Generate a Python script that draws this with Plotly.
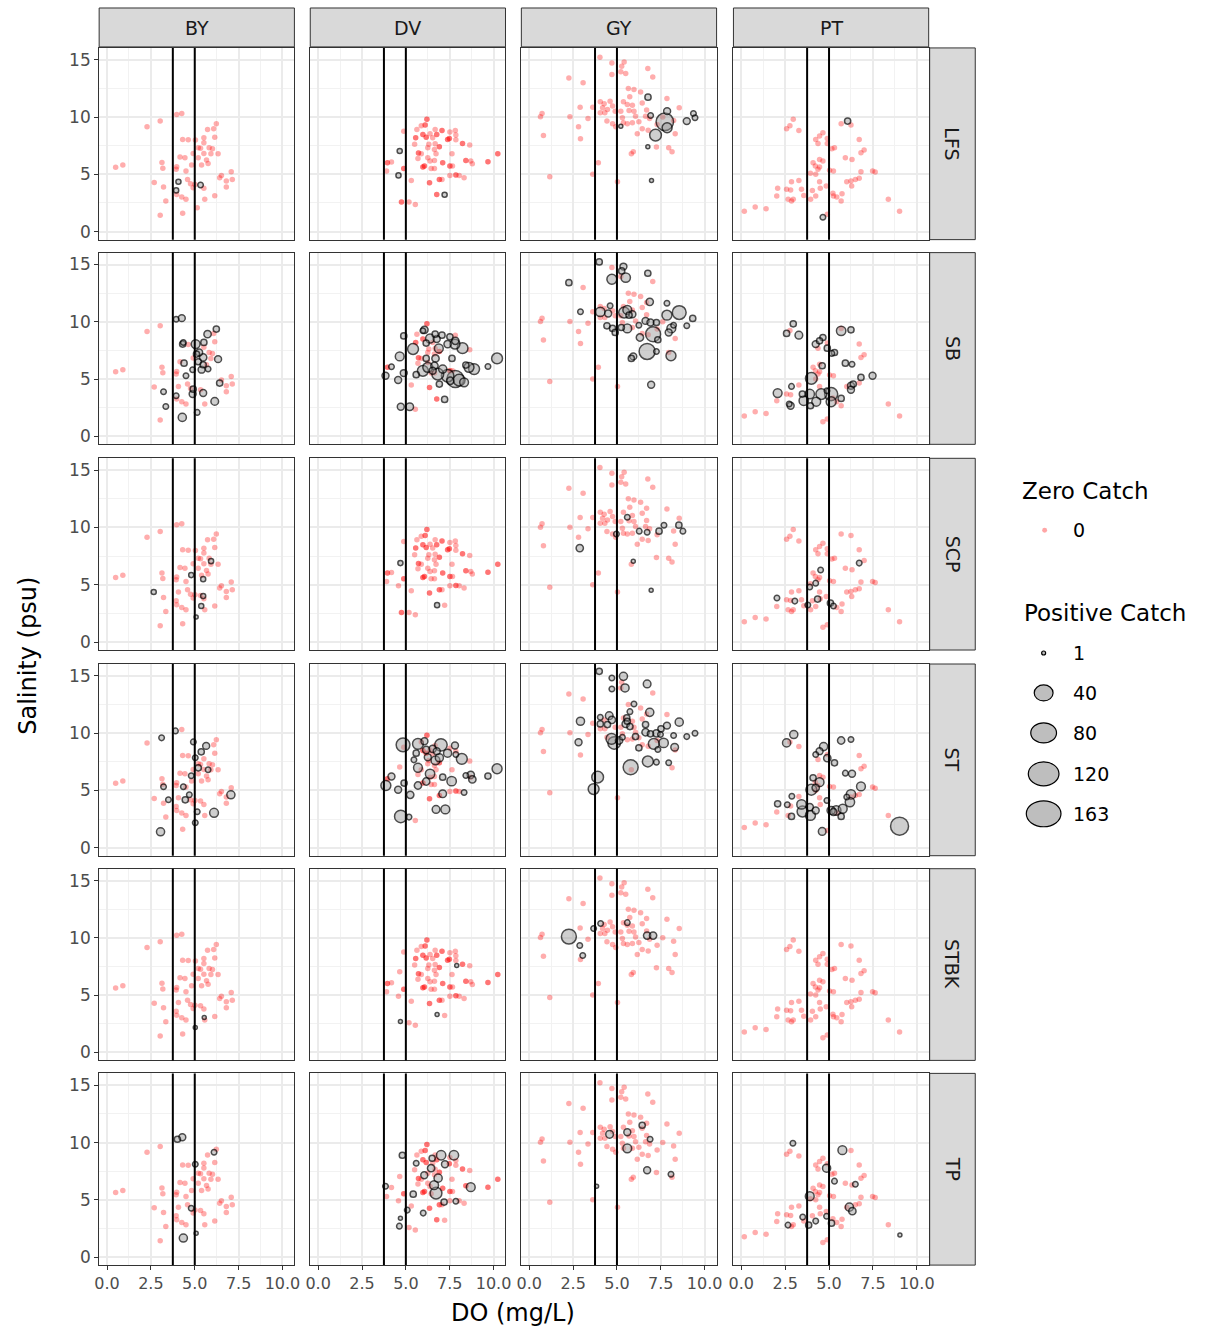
import math
import plotly.graph_objects as go

# ---------------- categories / ticks ----------------
STATIONS = ["BY", "DV", "GY", "PT"]
SPECIES = ["LFS", "SB", "SCP", "ST", "STBK", "TP"]
DO_THRESHOLDS = [3.75, 5.0]
X_TICKS = [0, 2.5, 5, 7.5, 10]
X_TICK_TEXT = ["0.0", "2.5", "5.0", "7.5", "10.0"]
X_MINOR = [1.25, 3.75, 6.25, 8.75]
Y_TICKS = [0, 5, 10, 15]
Y_TICK_TEXT = ["0", "5", "10", "15"]
Y_MINOR = [2.5, 7.5, 12.5]
LEGEND_SIZES = [1, 40, 80, 120, 163]

# ---------------- sampling events (DO mg/L, salinity psu) per station ----------------
events_BY = [(3.97,10.23),(4.26,10.32),(3.03,9.65),(2.28,9.15),(6.23,9.42),(5.73,8.92),(6.08,8.98),
             (4.31,8.05),(4.63,8.02),(5.04,7.99),(5.52,8.19),(6.14,8.25),(5.52,7.77),(5.2,7.32),(5.33,7.27),
             (5.82,7.32),(6.01,7.24),(4.91,6.83),(5.52,6.83),(5.92,6.8),(6.33,6.8),(4.16,6.51),(4.44,6.45),
             (5.2,6.45),(5.67,6.25),(5.76,5.94),(5.39,5.82),(4.82,5.82),(3.97,5.67),(3.94,5.44),(3.13,6.03),
             (3.18,5.54),(0.49,5.63),(0.9,5.82),(4.5,5.29),(6.52,4.91),(6.42,4.71),(7.08,5.23),(7.14,4.56),
             (6.8,4.42),(6.8,3.89),(2.69,4.3),(3.22,3.89),(4.59,4.56),(4.76,4.18),(4.91,3.84),(5.52,3.78),
             (5.01,4.12),(4.26,3.02),(4.5,2.82),(3.97,3.25),(5.57,2.82),(6.14,3.14),(3.35,2.67),(5.14,2.09),
             (4.31,1.6),(3.03,1.42),(4.07,4.36),(3.94,3.6),(5.33,4.07)]

events_DV = [(6.2,9.82),(6.1,9.3),(5.88,9.24),(5.63,8.92),(4.88,8.77),(5.97,8.49),(6.38,8.54),(6.67,8.92),
             (6.76,8.49),(7.06,8.83),(7.51,8.69),(7.82,8.83),(7.85,8.43),(5.56,8.2),(6.16,8.25),(6.53,8.2),
             (7.38,8.05),(7.48,8.14),(7.85,8.02),(8.23,7.7),(8.64,7.56),(5.5,7.62),(6.31,7.62),(6.67,7.67),
             (6.91,7.41),(6.25,7.32),(6.63,7.18),(5.72,6.86),(5.88,6.8),(6.72,6.8),(7.63,6.8),(10.24,6.8),
             (8.42,6.22),(8.7,6.16),(8.79,5.93),(9.68,6.1),(3.95,6.02),(4.18,6.07),(4.88,5.52),(3.9,5.29),
             (5.69,6.39),(6.25,6.45),(6.38,6.16),(6.63,6.22),(6.06,5.72),(5.97,5.64),(6.44,5.52),(7.1,6.02),
             (7.51,5.72),(7.66,5.72),(7.85,4.94),(8.04,4.91),(7.51,4.91),(8.32,4.71),(6.63,5.52),(5.31,4.47),
             (6.35,4.27),(6.91,4.56),(7.06,4.56),(6.76,3.25),(4.75,2.58),(5.18,2.58),(5.54,2.37),
             (4.65,7.04),(4.58,4.91),(7.21,3.22)]
# repeated samples at the same DO/salinity (appear as deeper red)
repeats_DV = [(6.2,9.82),(6.1,9.3),(5.97,8.49),(6.76,8.49),(7.06,8.83),(5.56,8.2),(6.16,8.25),(7.38,8.05),
              (7.48,8.14),(8.23,7.7),(6.91,7.41),(5.72,6.86),(10.24,6.8),(8.42,6.22),(9.68,6.1),(3.95,6.02),
              (4.88,5.52),(6.06,5.72),(5.97,5.64),(7.1,6.02),(7.51,5.72),(7.85,4.94),(6.35,4.27),(6.91,4.56),
              (6.76,3.25),(4.75,2.58)]

events_GY = [(4.03,15.23),(4.71,14.73),(5.41,14.82),(5.27,14.44),(5.22,13.95),(5.5,13.8),(4.71,13.71),
             (6.76,14.24),(7.04,13.51),(2.26,13.42),(3.07,12.99),(5.65,12.5),(5.97,12.41),(6.35,12.2),
             (6.69,11.68),(5.73,11.77),(7.85,11.62),(4.05,11.33),(4.61,11.39),(4.27,11.16),(5.37,11.33),
             (5.59,11.1),(5.88,11.04),(6.44,11.24),(2.9,10.87),(3.62,10.87),(4.18,10.81),(4.46,10.66),
             (4.75,10.96),(5.22,10.52),(5.69,10.58),(5.97,10.52),(6.69,10.61),(8.55,10.81),(4.05,10.38),
             (4.31,10.38),(4.9,10.52),(0.73,10.32),(0.64,10.03),(2.32,10.03),(3.35,9.88),(4.43,9.65),
             (4.75,9.42),(4.93,9.15),(5.37,9.5),(5.59,9.42),(5.88,9.5),(6.25,9.59),(6.63,10.08),(6.86,9.88),
             (7.61,10.0),(8.23,9.7),(8.32,8.54),(2.81,9.15),(6.44,8.98),(6.78,8.86),(6.16,8.54),(0.81,8.4),
             (2.92,8.1),(7.25,7.38),(7.95,7.32),(8.14,6.98),(5.93,6.98),(5.82,6.8),(3.94,6.02),(3.62,5.0),
             (1.17,4.79),(5.03,4.36),(6.06,10.08),(5.31,9.94),(7.29,9.36)]

events_PT = [(2.96,9.82),(2.77,9.24),(2.58,8.98),(3.28,8.83),(5.69,9.42),(6.25,9.3),(4.65,8.63),(4.46,8.34),
             (4.24,8.05),(4.37,7.7),(4.9,8.14),(4.9,7.7),(6.72,8.05),(5.31,7.32),(5.16,7.24),(7.0,7.12),
             (6.82,6.89),(4.46,6.3),(4.65,6.16),(4.09,6.02),(4.22,5.72),(4.46,5.64),(4.37,5.44),(5.93,6.45),
             (6.31,6.3),(5.03,5.35),(5.25,5.29),(3.94,5.09),(4.24,5.0),(6.82,5.23),(7.48,5.29),(7.63,5.2),
             (6.5,4.56),(6.25,4.42),(6.01,4.36),(6.72,4.65),(6.29,3.98),(2.86,4.36),(3.28,4.47),(2.07,3.78),
             (2.58,3.69),(2.81,3.63),(3.43,3.69),(4.05,3.6),(3.95,2.82),(3.56,3.16),(4.24,3.11),(4.46,4.36),
             (4.5,3.78),(4.84,3.98),(5.22,3.34),(5.44,3.02),(5.25,3.11),(5.74,3.31),(5.69,2.67),(2.02,3.11),
             (2.67,2.82),(2.86,2.67),(2.96,2.82),(0.17,1.77),(0.79,2.15),(1.41,2.0),(8.38,2.82),(9.02,1.77),
             (4.65,1.28),(4.9,1.51)]

# ---------------- positive catches (DO, salinity, catch) per species x station ----------------
LFS_BY = [(4.07,4.36,2),(3.94,3.6,2),(5.33,4.07,3)]
LFS_DV = [(4.65,7.04,2),(4.58,4.91,2),(7.21,3.22,2)]
LFS_GY = [(6.77,11.74,5),(6.92,10.14,3),(7.86,10.52,8),(7.73,9.59,150),(7.86,9.07,30),(7.2,8.43,50),
          (9.36,10.32,3),(9.45,9.94,3),(8.98,9.65,8),(5.22,9.21,1),(6.76,7.41,1),(6.97,4.47,1)]
LFS_PT = [(6.06,9.65,5),(4.65,1.25,3)]

SB_BY = [(3.94,10.23,3),(4.26,10.32,8),(6.23,9.36,5),(5.73,8.92,10),(4.31,8.05,5),(4.35,8.2,3),(5.05,8.05,20),
         (5.52,8.2,5),(5.25,7.32,8),(5.1,7.18,5),(5.48,6.89,10),(6.33,6.74,8),(4.39,6.39,5),(5.2,6.51,5),
         (5.48,6.25,5),(5.76,5.87,3),(5.39,5.82,8),(4.88,5.82,3),(4.5,5.29,3),(6.42,4.65,5),(3.22,3.89,3),
         (3.94,3.54,3),(4.91,4.12,5),(4.88,3.69,8),(5.48,3.78,8),(6.14,3.05,12),(3.35,2.61,3),(5.14,2.09,3),
         (4.29,1.65,15)]
SB_DV = [(6.06,9.3,10),(4.88,8.77,5),(5.97,9.21,3),(6.67,8.92,5),(7.06,8.83,5),(7.51,8.69,5),(6.38,8.54,20),
         (6.76,8.49,8),(5.41,7.62,40),(6.16,8.14,5),(6.88,7.67,20),(7.38,8.05,10),(7.8,8.05,30),(8.23,7.7,40),
         (6.16,6.8,5),(6.69,6.8,10),(7.63,6.8,5),(4.65,6.98,20),(10.2,6.8,40),(6.63,6.16,10),(6.25,6.02,30),
         (5.97,5.72,40),(7.1,5.87,15),(6.53,5.72,8),(8.6,6.02,30),(8.89,5.87,40),(8.42,6.22,5),(9.68,6.1,3),
         (6.82,5.43,50),(7.38,5.29,60),(7.82,5.0,140),(8.04,4.91,50),(8.32,4.71,20),(6.91,4.56,5),(7.53,4.85,10),
         (4.18,6.07,3),(4.88,5.52,8),(3.84,5.29,8),(4.56,4.91,8),(5.59,5.38,5),(7.21,3.22,5),(4.71,2.58,8),
         (5.22,2.58,12),(7.82,8.34,10)]
SB_GY = [(3.99,15.23,5),(5.37,14.82,8),(5.27,14.44,5),(4.71,13.71,30),(5.5,13.86,25),(6.76,14.24,5),
         (2.26,13.42,5),(6.87,11.74,10),(7.85,11.62,3),(4.05,10.87,25),(4.61,11.39,3),(4.5,10.72,8),
         (5.59,11.04,20),(5.41,10.81,40),(5.88,10.66,8),(5.69,10.58,5),(2.92,10.87,3),(7.85,10.58,30),
         (8.55,10.81,80),(9.32,10.29,5),(8.98,9.65,3),(6.63,10.08,8),(6.91,9.94,8),(7.25,9.94,5),(8.23,9.7,3),
         (4.43,9.65,5),(4.75,9.42,5),(4.9,9.07,5),(5.25,9.5,5),(5.59,9.42,20),(6.25,9.7,3),(7.06,8.92,100),
         (7.33,8.43,5),(7.95,9.07,8),(8.1,9.42,20),(6.31,8.63,10),(6.72,7.41,120),(7.25,7.41,3),(8.08,7.03,30),
         (5.93,6.98,8),(5.82,6.8,5),(6.95,4.5,8)]
SB_PT = [(2.96,9.82,5),(2.58,8.98,5),(3.28,8.83,12),(5.69,9.21,25),(6.25,9.3,5),(4.65,8.63,5),(4.46,8.34,5),
         (4.24,8.05,8),(4.9,7.7,5),(5.31,7.32,5),(5.16,7.24,3),(5.93,6.39,5),(6.31,6.3,3),(4.61,6.16,5),
         (3.99,5.06,50),(6.82,5.14,5),(7.48,5.29,8),(6.25,4.42,8),(6.38,4.56,5),(6.25,4.07,8),(2.86,4.36,3),
         (2.07,3.78,20),(3.48,3.69,5),(3.9,3.69,25),(3.56,3.11,25),(4.27,3.02,20),(4.56,3.69,40),(4.88,3.98,3),
         (5.12,3.69,70),(5.12,3.02,30),(5.69,3.31,5),(2.81,2.67,8),(3.94,2.67,5),(2.73,2.82,3)]

SCP_BY = [(2.66,4.36,2),(4.8,5.84,2),(5.93,7.06,2),(5.48,5.49,2),(5.37,3.14,2),(5.08,2.18,1),(5.48,4.01,2)]
SCP_DV = [(4.69,6.89,2),(6.78,3.22,2)]
SCP_GY = [(2.88,8.2,10),(5.59,10.9,3),(6.72,9.59,3),(7.4,9.68,5),(7.68,10.2,3),(8.53,10.2,5),(8.76,9.68,3),
          (5.93,7.06,1),(6.95,4.53,1),(4.97,9.42,3),(6.27,9.68,3)]
SCP_PT = [(2.03,3.84,3),(3.05,3.57,3),(3.9,4.8,3),(4.24,5.14,3),(4.35,3.75,5),(4.52,6.28,3),(5.08,3.4,5),
          (5.25,3.14,3),(6.72,6.89,3),(3.79,3.23,3)]

ST_BY = [(3.9,10.2,3),(3.11,9.59,3),(4.92,9.24,3),(5.37,8.37,5),(5.03,7.85,3),(5.65,8.89,8),(5.2,6.97,5),
         (4.8,6.28,3),(4.35,5.32,3),(3.22,5.32,3),(3.5,4.18,3),(4.46,4.18,5),(5.14,3.14,3),(6.1,3.05,20),
         (3.05,1.39,15),(7.06,4.62,15),(5.03,2.18,3),(5.76,6.8,3),(4.69,4.62,3)]
ST_DV = [(4.84,8.98,80),(5.69,9.07,40),(7.0,8.98,60),(6.06,9.3,8),(6.16,8.54,10),(6.53,8.63,10),(6.76,8.43,8),
         (7.38,8.25,15),(7.8,8.92,8),(5.59,8.25,5),(6.25,7.9,8),(6.69,7.62,20),(6.91,7.85,15),(8.19,7.76,40),
         (7.85,8.14,3),(5.46,7.67,3),(5.69,6.98,20),(10.2,6.89,30),(6.38,6.45,25),(7.1,6.16,5),(7.61,5.81,25),
         (6.16,5.78,10),(5.69,5.43,10),(8.7,6.36,10),(8.79,5.96,10),(8.42,6.3,3),(9.68,6.25,5),(4.18,6.22,8),
         (3.86,5.43,30),(4.9,5.64,5),(4.56,5.06,8),(5.25,4.62,10),(7.1,4.71,12),(8.32,4.82,3),(6.72,3.34,12),
         (7.25,3.34,20),(4.71,2.73,60),(5.18,2.67,3)]
ST_GY = [(3.99,15.4,5),(4.71,14.82,3),(5.37,14.96,15),(4.71,13.86,3),(5.46,13.95,15),(6.72,14.3,12),
         (5.97,12.55,3),(5.74,11.88,3),(6.87,11.82,15),(4.05,11.39,3),(4.56,11.53,12),(4.71,11.16,10),
         (5.56,11.33,5),(5.59,11.04,5),(2.92,11.04,15),(4.05,10.81,5),(4.46,10.75,5),(5.5,10.81,10),
         (5.74,10.58,5),(6.63,10.75,5),(7.85,10.66,8),(8.55,10.96,15),(7.51,10.38,5),(8.23,9.79,3),
         (8.98,9.7,3),(9.45,10.0,3),(6.63,10.08,10),(6.91,9.94,5),(7.25,9.99,10),(7.48,9.88,3),(6.06,9.7,5),
         (5.31,9.65,3),(4.69,9.5,40),(4.84,9.15,60),(5.12,9.36,10),(2.81,9.21,8),(7.1,9.07,40),(7.66,9.15,25),
         (8.29,8.77,12),(6.25,8.72,5),(7.33,8.57,3),(6.76,7.53,40),(7.25,7.47,3),(5.78,7.03,100),(7.95,7.41,3),
         (3.9,6.16,50),(3.67,5.12,40)]
ST_PT = [(2.99,9.88,15),(2.58,9.15,15),(5.69,9.36,10),(6.25,9.44,3),(4.69,8.83,15),(4.46,8.43,8),(4.24,8.14,3),
         (4.9,7.82,10),(5.31,7.41,5),(5.93,6.51,3),(6.31,6.45,8),(4.09,6.1,5),(4.46,5.72,20),(4.24,5.23,10),
         (3.99,5.06,40),(6.82,5.35,20),(6.25,4.65,25),(6.19,3.98,25),(6.01,4.42,3),(2.88,4.5,3),(2.07,3.83,5),
         (2.62,3.75,3),(3.43,3.78,25),(3.9,3.54,10),(3.49,3.16,40),(3.94,2.82,30),(4.24,3.25,8),(4.88,4.12,3),
         (5.12,3.25,15),(5.41,3.25,25),(5.78,3.4,20),(5.69,2.73,5),(5.25,3.11,8),(2.86,2.73,5),(4.61,1.42,12),
         (9.02,1.88,163)]

STBK_BY = [(5.54,3.05,1),(5.03,2.18,1)]
STBK_DV = [(4.69,2.7,1),(6.78,3.31,1),(7.9,7.58,1)]
STBK_GY = [(2.26,10.11,100),(3.67,10.81,3),(4.07,11.25,3),(2.88,9.33,3),(3.05,8.46,3),(5.59,11.33,3),
           (6.72,10.2,10),(7.06,10.2,10)]
STBK_PT = []

TP_BY = [(4.01,10.29,5),(4.29,10.46,8),(5.03,8.11,3),(6.1,9.15,3),(4.8,4.27,3),(4.35,1.66,15),(5.08,2.09,1)]
TP_DV = [(4.8,8.89,5),(5.59,8.2,3),(6.5,8.63,5),(7.01,8.89,25),(7.74,8.89,25),(6.44,7.76,10),(7.23,8.11,8),
         (6.05,7.15,8),(6.84,6.89,15),(6.61,6.28,20),(6.72,5.58,50),(8.7,6.1,20),(7.18,4.8,5),(7.85,4.88,3),
         (4.63,2.7,3),(3.84,6.19,3),(5.42,5.49,5),(5.99,3.84,3),(5.08,4.1,3),(4.69,3.4,1)]
TP_GY = [(4.58,10.72,12),(5.59,10.9,8),(6.44,11.51,5),(5.59,9.5,20),(6.89,10.29,3),(6.72,7.58,8),(8.08,7.24,3),
         (3.84,6.19,1)]
TP_PT = [(2.94,9.94,3),(3.9,5.32,20),(4.86,7.76,15),(5.76,9.33,20),(6.16,4.36,15),(6.33,4.01,10),(6.5,6.36,3),
         (4.86,3.57,3),(5.14,2.96,5),(2.66,2.79,3),(3.5,3.49,3),(3.84,2.79,5),(4.24,3.14,3),(9.04,1.92,1),
         (5.31,6.63,3)]

EVENTS = {"BY": events_BY, "DV": events_DV + repeats_DV, "GY": events_GY, "PT": events_PT}
POSITIVES = {
    "LFS": [LFS_BY, LFS_DV, LFS_GY, LFS_PT],
    "SB": [SB_BY, SB_DV, SB_GY, SB_PT],
    "SCP": [SCP_BY, SCP_DV, SCP_GY, SCP_PT],
    "ST": [ST_BY, ST_DV, ST_GY, ST_PT],
    "STBK": [STBK_BY, STBK_DV, STBK_GY, STBK_PT],
    "TP": [TP_BY, TP_DV, TP_GY, TP_PT],
}

# ---------------- layout geometry ----------------
W, H = 1232, 1331
COL_LEFT = [95, 308, 521, 735]
ROW_TOP = [48, 253, 459, 665, 870, 1075]
PW, PH = 197, 192
X_RANGE = [-0.45, 10.68]
Y_RANGE = [-0.70, 16.04]
FONT = "DejaVu Sans, Arial, sans-serif"
MAX_N = 163


def px_x(px):
    return px / W


def px_y(py):
    return 1 - py / H


def diam(n):
    return 4 + 14 * math.sqrt(max(n - 1, 0) / (MAX_N - 1))


def zero_points(events, positives):
    out = []
    for e in events:
        if not any(abs(e[0] - p[0]) < 0.15 and abs(e[1] - p[1]) < 0.2 for p in positives):
            out.append(e)
    return out


fig = go.Figure()
shapes = []
annotations = []
layout_axes = {}

for r, sp in enumerate(SPECIES):
    for c, st in enumerate(STATIONS):
        idx = r * 4 + c + 1
        sfx = "" if idx == 1 else str(idx)
        L, T = COL_LEFT[c], ROW_TOP[r]
        bottom = r == len(SPECIES) - 1
        left = c == 0
        layout_axes["xaxis" + sfx] = dict(
            domain=[px_x(L), px_x(L + PW)], anchor="y" + sfx, range=X_RANGE,
            tickvals=X_TICKS, ticktext=X_TICK_TEXT, showticklabels=bottom,
            ticks="outside" if bottom else "", ticklen=4, tickwidth=1, tickcolor="#333333",
            tickfont=dict(family=FONT, size=16, color="#4D4D4D"),
            showgrid=True, gridcolor="#EBEBEB", gridwidth=1.5,
            minor=dict(tickvals=X_MINOR, showgrid=True, gridcolor="#F2F2F2", gridwidth=0.8),
            zeroline=False, showline=True, mirror=True, linecolor="#333333", linewidth=1,
            fixedrange=True)
        layout_axes["yaxis" + sfx] = dict(
            domain=[px_y(T + PH), px_y(T)], anchor="x" + sfx, range=Y_RANGE,
            tickvals=Y_TICKS, ticktext=Y_TICK_TEXT, showticklabels=left,
            ticks="outside" if left else "", ticklen=4, tickwidth=1, tickcolor="#333333",
            tickfont=dict(family=FONT, size=17, color="#4D4D4D"),
            showgrid=True, gridcolor="#EBEBEB", gridwidth=1.5,
            minor=dict(tickvals=Y_MINOR, showgrid=True, gridcolor="#F2F2F2", gridwidth=0.8),
            zeroline=False, showline=True, mirror=True, linecolor="#333333", linewidth=1,
            fixedrange=True)

        pos = POSITIVES[sp][c]
        zeros = zero_points(EVENTS[st], pos)
        fig.add_trace(go.Scatter(
            x=[p[0] for p in zeros], y=[p[1] for p in zeros], mode="markers",
            xaxis="x" + sfx, yaxis="y" + sfx, showlegend=False, hoverinfo="skip",
            marker=dict(size=5.5, color="rgba(255,0,0,0.32)", line=dict(width=0))))
        pos_sorted = sorted(pos, key=lambda p: -p[2])
        fig.add_trace(go.Scatter(
            x=[p[0] for p in pos_sorted], y=[p[1] for p in pos_sorted], mode="markers",
            xaxis="x" + sfx, yaxis="y" + sfx, showlegend=False,
            text=[str(p[2]) for p in pos_sorted],
            marker=dict(size=[diam(p[2]) for p in pos_sorted], color="rgba(150,150,150,0.65)",
                        line=dict(width=1.5, color="black"))))
        for th in DO_THRESHOLDS:
            shapes.append(dict(type="line", xref="x" + sfx, yref="y" + sfx + " domain",
                               x0=th, x1=th, y0=0, y1=1, line=dict(color="black", width=2)))

# strips
for c, st in enumerate(STATIONS):
    L = COL_LEFT[c]
    shapes.append(dict(type="rect", xref="paper", yref="paper", x0=px_x(L), x1=px_x(L + PW),
                       y0=px_y(47), y1=px_y(8), fillcolor="#D9D9D9", line=dict(color="#333333", width=1),
                       layer="below"))
    annotations.append(dict(text=st, xref="paper", yref="paper", x=px_x(L + PW / 2), y=px_y(28),
                            showarrow=False, font=dict(family=FONT, size=19, color="#1A1A1A"),
                            xanchor="center", yanchor="middle"))
for r, sp in enumerate(SPECIES):
    T = ROW_TOP[r]
    shapes.append(dict(type="rect", xref="paper", yref="paper", x0=px_x(933), x1=px_x(979),
                       y0=px_y(T + PH), y1=px_y(T), fillcolor="#D9D9D9", line=dict(color="#333333", width=1),
                       layer="below"))
    annotations.append(dict(text=sp, xref="paper", yref="paper", x=px_x(956), y=px_y(T + PH / 2),
                            showarrow=False, textangle=90, font=dict(family=FONT, size=19, color="#1A1A1A"),
                            xanchor="center", yanchor="middle"))

# axis titles
annotations.append(dict(text="DO (mg/L)", xref="paper", yref="paper", x=px_x(513), y=px_y(1315),
                        showarrow=False, font=dict(family=FONT, size=24, color="black"),
                        xanchor="center", yanchor="middle"))
annotations.append(dict(text="Salinity (psu)", xref="paper", yref="paper", x=px_x(23), y=px_y(657),
                        showarrow=False, textangle=-90, font=dict(family=FONT, size=24, color="black"),
                        xanchor="center", yanchor="middle"))

# legend (manual)
annotations.append(dict(text="Zero Catch", xref="paper", yref="paper", x=px_x(1024), y=px_y(492),
                        showarrow=False, font=dict(family=FONT, size=23, color="black"),
                        xanchor="left", yanchor="middle"))
shapes.append(dict(type="circle", xref="paper", yref="paper", x0=px_x(1046.5), x1=px_x(1051.5),
                   y0=px_y(533.5), y1=px_y(528.5), fillcolor="rgba(255,0,0,0.35)", line=dict(width=0)))
annotations.append(dict(text="0", xref="paper", yref="paper", x=px_x(1076), y=px_y(531),
                        showarrow=False, font=dict(family=FONT, size=19, color="black"),
                        xanchor="left", yanchor="middle"))
annotations.append(dict(text="Positive Catch", xref="paper", yref="paper", x=px_x(1026), y=px_y(614),
                        showarrow=False, font=dict(family=FONT, size=23, color="black"),
                        xanchor="left", yanchor="middle"))
LEG_Y = [654, 694, 734, 775, 815]
LEG_WH = [(4, 4), (19, 16), (26, 20), (31, 24), (35, 26)]
for n, yc, (w, h) in zip(LEGEND_SIZES, LEG_Y, LEG_WH):
    cx = 1048
    shapes.append(dict(type="circle", xref="paper", yref="paper", x0=px_x(cx - w / 2), x1=px_x(cx + w / 2),
                       y0=px_y(yc + h / 2), y1=px_y(yc - h / 2), fillcolor="#BEBEBE",
                       line=dict(color="black", width=1.2)))
    annotations.append(dict(text=str(n), xref="paper", yref="paper", x=px_x(1076), y=px_y(yc),
                            showarrow=False, font=dict(family=FONT, size=19, color="black"),
                            xanchor="left", yanchor="middle"))

fig.update_layout(
    width=W, height=H, margin=dict(l=0, r=0, t=0, b=0),
    paper_bgcolor="white", plot_bgcolor="white", showlegend=False,
    shapes=shapes, annotations=annotations, font=dict(family=FONT),
    **layout_axes)

fig.write_html("out.html", config={"displayModeBar": False},
               post_script="document.body.style.margin='0px';document.body.style.overflow='hidden';")
